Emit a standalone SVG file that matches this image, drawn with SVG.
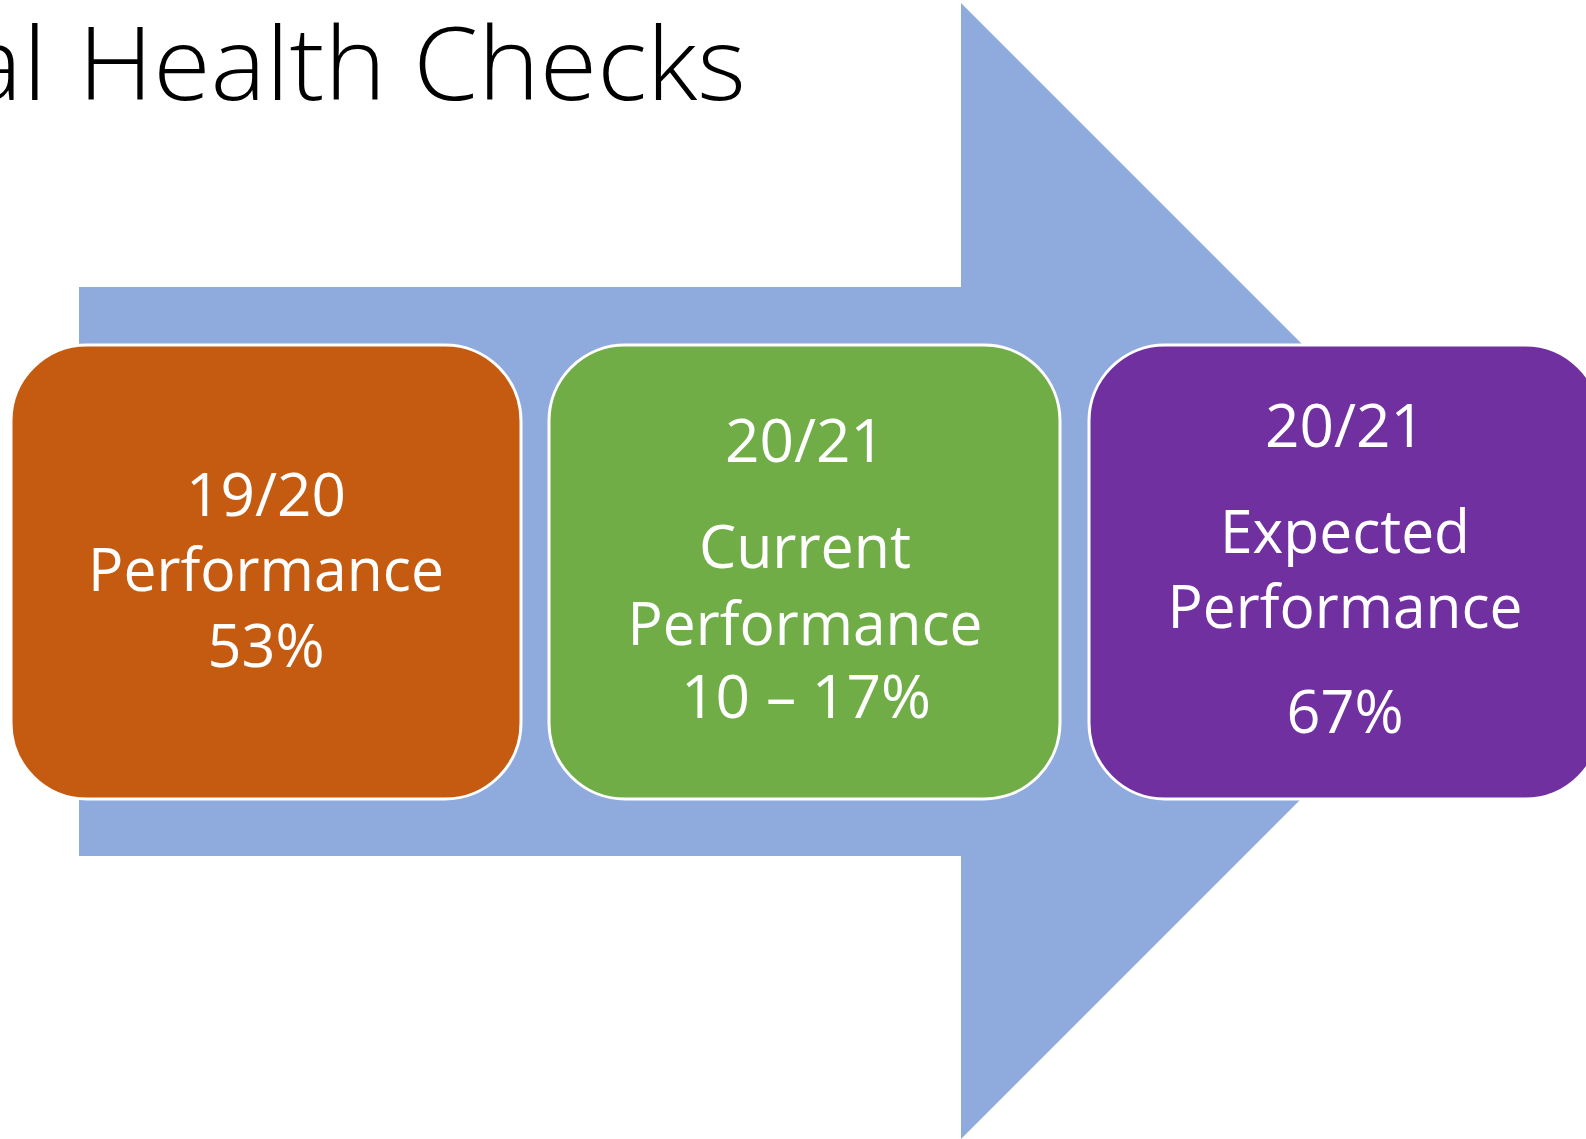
<svg xmlns="http://www.w3.org/2000/svg" width="1586" height="1139" viewBox="0 0 1586 1139">
<style>
.title{font-family:"Open Sans","Liberation Sans",sans-serif;font-weight:300;font-size:102px;fill:#000}
.lbl{font-family:"Open Sans","Liberation Sans",sans-serif;font-size:61px;fill:#fff;text-anchor:middle}
.box{stroke:#fff;stroke-width:3}
</style>
<rect width="1586" height="1139" fill="#fff"/>
<g id="connectors">
<path id="arrow" d="M79,287 H961 V3 L1529,571 L961,1139 V856 H79 Z" fill="#8FAADC"/>
</g>
<g id="title">
<text class="title" x="-35" y="100" textLength="82" lengthAdjust="spacingAndGlyphs">al</text>
<text class="title" x="78" y="100" textLength="668" lengthAdjust="spacingAndGlyphs">Health Checks</text>
</g>
<g id="node-1920">
<rect class="box" x="11" y="345" width="510" height="454" rx="76" fill="#C55A11"/>
<text class="lbl" x="266" y="516" textLength="160" lengthAdjust="spacingAndGlyphs">19/20</text>
<text class="lbl" x="266" y="591" textLength="356" lengthAdjust="spacingAndGlyphs">Performance</text>
<text class="lbl" x="266" y="667" textLength="117" lengthAdjust="spacingAndGlyphs">53%</text>
</g>
<g id="node-current">
<rect class="box" x="549" y="345" width="511" height="454" rx="76" fill="#70AD47"/>
<text class="lbl" x="805" y="462" textLength="160" lengthAdjust="spacingAndGlyphs">20/21</text>
<text class="lbl" x="805" y="568" textLength="212" lengthAdjust="spacingAndGlyphs">Current</text>
<text class="lbl" x="805" y="645" textLength="355" lengthAdjust="spacingAndGlyphs">Performance</text>
<text class="lbl" x="806" y="718" textLength="250" lengthAdjust="spacingAndGlyphs">10 – 17%</text>
</g>
<g id="node-expected">
<rect class="box" x="1089" y="345" width="512" height="454" rx="76" fill="#7030A0"/>
<text class="lbl" x="1345" y="447" textLength="160" lengthAdjust="spacingAndGlyphs">20/21</text>
<text class="lbl" x="1345" y="553" textLength="250" lengthAdjust="spacingAndGlyphs">Expected</text>
<text class="lbl" x="1345" y="628" textLength="355" lengthAdjust="spacingAndGlyphs">Performance</text>
<text class="lbl" x="1345" y="733" textLength="117" lengthAdjust="spacingAndGlyphs">67%</text>
</g>
</svg>
